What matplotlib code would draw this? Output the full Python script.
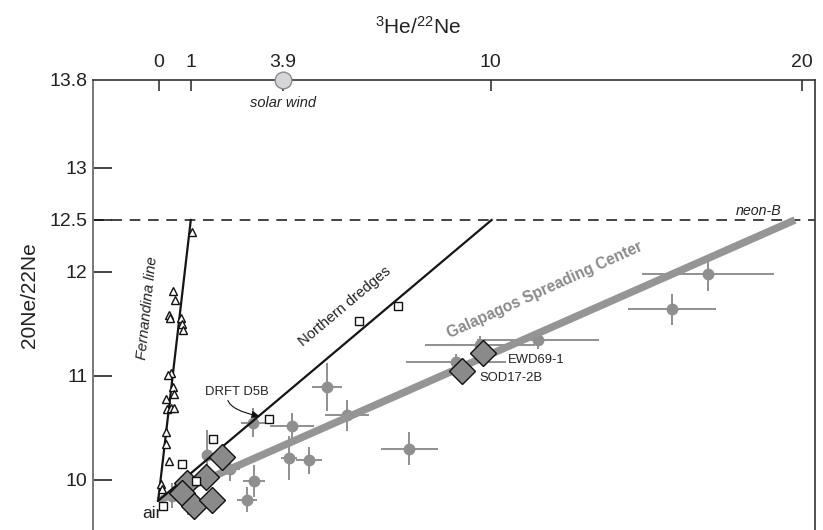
import matplotlib
matplotlib.use("Agg")
import matplotlib.pyplot as plt
import numpy as np

plt.rcParams['font.family'] = ['Liberation Sans', 'DejaVu Sans']
plt.rcParams['mathtext.default'] = 'regular'

# ---- data ----
air = (-0.12, 9.8)
fern_end = (0.9, 12.5)
north_end = (10.3, 12.5)
gsc_end = (19.78, 12.5)
neon_b = 12.5

fern_x = [0.93, 0.34, 0.40, 0.22, 0.25, 0.58, 0.63, 0.67, 0.27, 0.19, 0.35, 0.39,
          0.13, 0.17, 0.27, 0.37, 0.13, 0.14, 0.23, -0.03, 0.0]
fern_y = [12.38, 11.82, 11.73, 11.59, 11.56, 11.56, 11.50, 11.44, 11.03, 11.01, 10.89, 10.83,
          10.78, 10.68, 10.69, 10.69, 10.46, 10.35, 10.18, 9.96, 9.91]

north_x = [3.34, 6.16, 7.39, 1.58, 0.62, 1.06, 0.03]
north_y = [10.59, 11.53, 11.67, 10.39, 10.15, 9.99, 9.75]

gsc_x = [5.15, 5.77, 2.85, 4.05, 3.98, 4.60, 7.73, 2.88, 2.65, 2.13, 11.74, 9.94, 9.19,
         17.07, 15.93, 1.40, 0.31, 0.81]
gsc_y = [10.89, 10.62, 10.55, 10.52, 10.21, 10.19, 10.30, 9.99, 9.81, 10.11, 11.35, 11.30, 11.13,
         11.98, 11.64, 10.24, 9.85, 9.81]
gsc_xerr = [0.47, 0.69, 0.38, 0.69, 0.25, 0.41, 0.88, 0.34, 0.31, 0.31, 1.91, 1.72, 1.56,
            2.06, 1.38, 0.15, 0.3, 0.2]
gsc_yerr = [0.23, 0.15, 0.14, 0.12, 0.21, 0.13, 0.16, 0.15, 0.12, 0.12, 0.09, 0.08, 0.08,
            0.16, 0.15, 0.24, 0.12, 0.15]

dia_x = [1.87, 1.38, 0.78, 0.62, 1.0, 1.55, 10.04, 9.37]
dia_y = [10.22, 10.03, 9.97, 9.87, 9.75, 9.81, 11.22, 11.05]
dia_labels = ['', '', '', '', '', '', 'EWD69-1', 'SOD17-2B']

drft_tip = (3.06, 10.61)
y_top = 13.846
solar_wind = (3.78, y_top)

top_tick_pos = [-0.09, 0.9, 3.78, 10.27, 20.0]
top_tick_labels = ['0', '1', '3.9', '10', '20']
left_tick_pos = [10, 11, 12, 12.5, 13, y_top]
left_tick_labels = ['10', '11', '12', '12.5', '13', '13.8']

# ---- figure ----
fig = plt.figure(figsize=(8.23, 5.30), dpi=100)
ax = fig.add_axes([93/823, 0.0, (815-93)/823, 1 - 80/530])
ax.set_xlim(-2.156, 20.406)
ax.set_ylim(9.519, y_top)

grey = '#8f8f8f'

# neon-B dashed line
ax.axhline(neon_b, color='#111111', lw=1.1, dashes=(7, 5), zorder=2)

# error bar points
ax.errorbar(gsc_x, gsc_y, xerr=gsc_xerr, yerr=gsc_yerr, fmt='o', color=grey,
            ms=7.5, elinewidth=1.4, capsize=0, zorder=3)

# GSC thick line
ax.plot([air[0], gsc_end[0]], [air[1], gsc_end[1]], color='#959595', lw=5.4,
        solid_capstyle='butt', zorder=4)

# Fernandina & northern lines
ax.plot([air[0], fern_end[0]], [air[1], fern_end[1]], color='#151515', lw=1.6, zorder=5)
ax.plot([air[0], north_end[0]], [air[1], north_end[1]], color='#151515', lw=1.6, zorder=5)

# triangles
ax.plot(fern_x, fern_y, linestyle='none', marker='^', ms=6.3, mfc='white', mec='#111111',
        mew=1.0, zorder=6)
# squares
ax.plot(north_x, north_y, linestyle='none', marker='s', ms=5.8, mfc='white', mec='#111111',
        mew=1.0, zorder=7)
# diamonds
ax.plot(dia_x, dia_y, linestyle='none', marker='D', ms=13, mfc='#8a8a8a', mec='#111111',
        mew=1.0, zorder=6.5)

# solar wind
ax.plot([solar_wind[0]], [solar_wind[1]], marker='o', ms=12, mfc='#d6d6d8', mec='#8a8a8a',
        mew=1.0, clip_on=False, zorder=10)
ax.text(solar_wind[0], 13.625, 'solar wind', ha='center', va='center', fontsize=10.5,
        style='italic', color='#222222')

# labels
ax.text(-0.47, 11.65, 'Fernandina line', rotation=84, ha='center', va='center',
        fontsize=10.8, style='italic', color='#222222')
ax.text(5.72, 11.67, 'Northern dredges', rotation=40, ha='center', va='center',
        fontsize=10.6, color='#222222')
ax.text(11.97, 11.83, 'Galapagos Spreading Center', rotation=24.5, ha='center', va='center',
        fontsize=11.2, fontweight='bold', color='#8a8a8a')
ax.text(18.63, 12.585, 'neon-B', ha='center', va='center', fontsize=10.2, style='italic',
        color='#222222')
ax.text(-0.31, 9.68, 'air', ha='center', va='center', fontsize=12.5, color='#222222')
ax.text(2.34, 10.85, 'DRFT D5B', ha='center', va='center', fontsize=9.4, color='#222222')
ax.annotate('', xy=drft_tip, xytext=(2.06, 10.765),
            arrowprops=dict(arrowstyle='-|>', color='#111111', lw=0.8,
                            shrinkA=0, shrinkB=0, mutation_scale=12,
                            connectionstyle='angle3,angleA=-70,angleB=-12'))
label_offsets = {'EWD69-1': (18, -5.3), 'SOD17-2B': (12.5, -5.3)}
for xv, yv, lab in zip(dia_x, dia_y, dia_labels):
    if lab:
        ax.annotate(lab, xy=(xv, yv), xytext=label_offsets[lab], textcoords='offset points',
                    ha='left', va='center', fontsize=9.4, color='#222222')

# axes styling
ax.spines['bottom'].set_visible(False)
ax.spines['left'].set_color('#777777')
ax.spines['left'].set_linewidth(1.4)
ax.spines['top'].set_color('#333333')
ax.spines['top'].set_linewidth(1.2)
ax.spines['right'].set_color('#333333')
ax.spines['right'].set_linewidth(1.2)

ax.xaxis.tick_top()
ax.set_xticks(top_tick_pos)
ax.set_xticklabels(top_tick_labels)
ax.tick_params(axis='x', direction='in', length=8, width=1.1, color='#222222',
               labelsize=14, pad=6.5, labelcolor='#222222')
ax.set_yticks(left_tick_pos)
ax.set_yticklabels(left_tick_labels)
ax.tick_params(axis='y', direction='in', length=14, width=1.2, color='#222222',
               labelsize=14, pad=4, labelcolor='#222222')
ax.yaxis.get_major_ticks()[-1].tick1line.set_visible(False)

fig.text(418/823, 1 - 27/530, r'$^{3}$He/$^{22}$Ne', ha='center', va='center',
         fontsize=15, color='#222222')
fig.text(30/823, 1 - 295/530, '20Ne/22Ne', rotation=90, ha='center', va='center',
         fontsize=15, color='#222222')

fig.savefig('out.png', dpi=100)
